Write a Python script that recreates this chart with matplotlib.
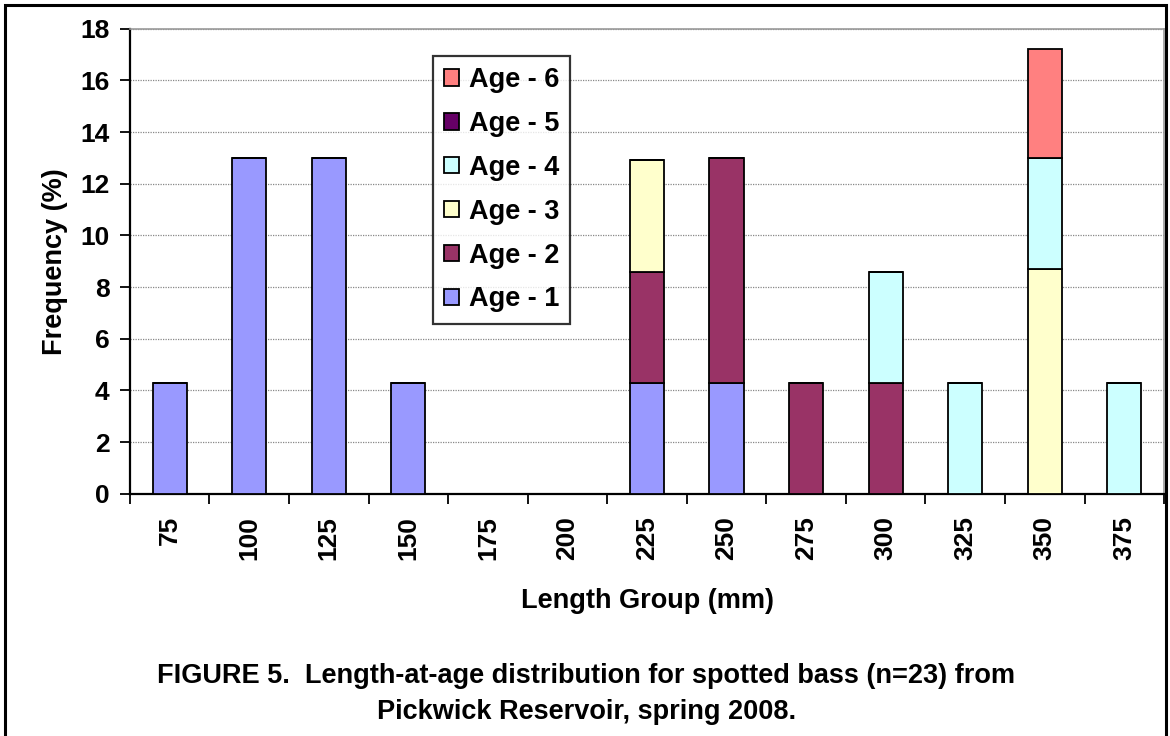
import numpy as np
import matplotlib.pyplot as plt
from matplotlib.patches import Rectangle

plt.rcParams['font.family'] = ['Liberation Sans', 'DejaVu Sans']
plt.rcParams['font.weight'] = 'bold'

# grupos de comprimento (mm)
grupos = ['75', '100', '125', '150', '175', '200', '225', '250', '275', '300', '325', '350', '375']

# frequencia (%) por idade, n=23
idade1 = [4.3, 13.0, 13.0, 4.3, 0, 0, 4.3, 4.3, 0, 0, 0, 0, 0]
idade2 = [0, 0, 0, 0, 0, 0, 4.3, 8.7, 4.3, 4.3, 0, 0, 0]
idade3 = [0, 0, 0, 0, 0, 0, 4.3, 0, 0, 0, 0, 8.7, 0]
idade4 = [0, 0, 0, 0, 0, 0, 0, 0, 0, 4.3, 4.3, 4.3, 4.3]
idade5 = [0, 0, 0, 0, 0, 0, 0, 0, 0, 0, 0, 0, 0]
idade6 = [0, 0, 0, 0, 0, 0, 0, 0, 0, 0, 0, 4.2, 0]

series = [idade1, idade2, idade3, idade4, idade5, idade6]
nomes = ['Age - 1', 'Age - 2', 'Age - 3', 'Age - 4', 'Age - 5', 'Age - 6']
cores = ['#9999FF', '#993366', '#FFFFCC', '#CCFFFF', '#660066', '#FF8080']

fig = plt.figure(figsize=(11.7, 7.36), dpi=100)
ax = fig.add_axes([0.111, 0.329, 0.884, 0.632])

x = np.arange(len(grupos))
base = np.zeros(len(grupos))
barras = []
for vals, nome, cor in zip(series, nomes, cores):
    vals = np.array(vals)
    b = ax.bar(x, vals, width=0.43, bottom=base, color=cor, edgecolor='black',
               linewidth=1.3, label=nome, zorder=3)
    barras.append(b)
    base = base + vals

ax.set_xlim(-0.5, len(grupos) - 0.5)
ax.set_ylim(0, 18)
ax.set_yticks(np.arange(0, 19, 2))
ax.set_xticks(x)
ax.set_xticklabels(grupos, rotation=90, fontsize=19, fontweight='bold')
ax.tick_params(axis='x', length=0, pad=16)
ax.set_xticks(np.arange(-0.5, len(grupos)), minor=True)
ax.tick_params(axis='x', which='minor', length=7.5, width=1.3, direction='out')
ax.tick_params(axis='y', labelsize=19, length=7.5, width=1.3, direction='out', pad=7)
for t in ax.get_yticklabels():
    t.set_fontweight('bold')

ax.grid(axis='y', color='#888888', linestyle=(0, (1, 1)), linewidth=0.9, zorder=0)
ax.spines['top'].set_color('#999999')
ax.spines['right'].set_color('#999999')
ax.spines['top'].set_linewidth(1.2)
ax.spines['right'].set_linewidth(1.2)
ax.spines['left'].set_linewidth(1.6)
ax.spines['bottom'].set_linewidth(1.6)

ax.set_xlabel('Length Group (mm)', fontsize=19.5, fontweight='bold', labelpad=20)
ax.set_ylabel('Frequency (%)', fontsize=19.5, fontweight='bold', labelpad=9)

leg = ax.legend(handles=barras[::-1], labels=nomes[::-1], loc='upper left',
                bbox_to_anchor=(0.293, 0.942), fontsize=19.5, frameon=True,
                fancybox=False, edgecolor='black', handlelength=0.55,
                handleheight=0.55, labelspacing=0.66, handletextpad=0.35,
                borderpad=0.42, borderaxespad=0)
leg.get_frame().set_linewidth(1.6)
for t in leg.get_texts():
    t.set_fontweight('bold')

fig.text(0.501, 0.082, 'FIGURE 5.  Length-at-age distribution for spotted bass (n=23) from',
         ha='center', va='center', fontsize=19.5, fontweight='bold')
fig.text(0.501, 0.032, 'Pickwick Reservoir, spring 2008.',
         ha='center', va='center', fontsize=19.5, fontweight='bold')

# moldura externa
fig.patches.append(Rectangle((0.004, -0.02), 0.993, 1.013, transform=fig.transFigure,
                             fill=False, edgecolor='black', linewidth=2.2))

fig.savefig('out.png', dpi=100)
